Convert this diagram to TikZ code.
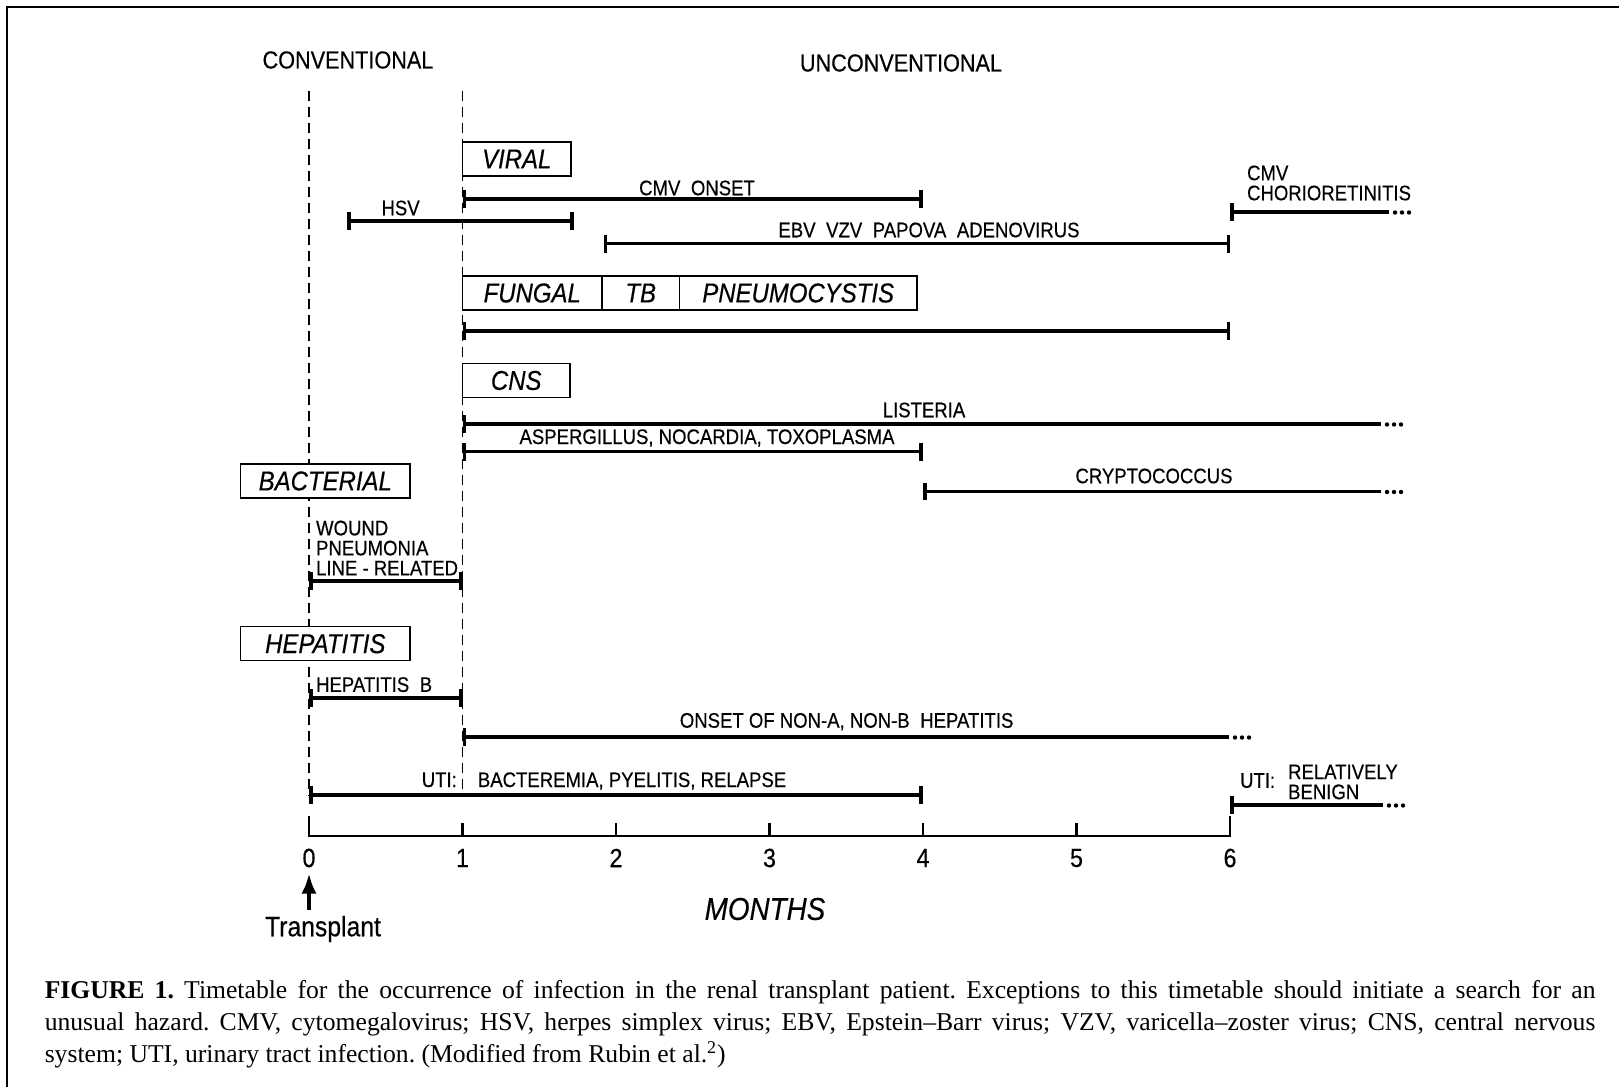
\documentclass[tikz,border=0pt]{standalone}
\usepackage{fontspec}
\setmainfont{Liberation Serif}
\newfontfamily\letfont[FakeStretch=0.88,FakeBold=0.4]{Liberation Sans}
\usetikzlibrary{arrows.meta,positioning}

\begin{document}
\begin{tikzpicture}[x=0.02cm, y=-0.02cm,
    span/.style={line width=2pt, {Bar[width=3.6mm]}-{Bar[width=3.6mm]}},
    onward/.style={line width=2pt, {Bar[width=3.6mm]}-},
    group/.style={draw, line width=0.9pt, fill=white, outer sep=0pt, inner sep=0pt, minimum height=6.8mm, font=\letfont\fontsize{15.5}{18}\selectfont\itshape},
    lbl/.style={inner sep=1pt, font=\letfont\fontsize{12}{11.4}\selectfont},
    head/.style={font=\letfont\fontsize{14}{16}\selectfont},
    num/.style={font=\letfont\fontsize{15}{17}\selectfont},
    more/.pic={\foreach \i in {0,1,2} \fill (6+7*\i,0.5) circle (2.2);},
    period/.style={line width=0.9pt, dash pattern=on 2mm off 1.2mm}
]
\useasboundingbox (0,0) rectangle (1619,1087);
\draw[line width=1.5pt] (7,1087) -- (7,7) -- (1619,7);

\node[head] (conv) at (348,60) {CONVENTIONAL};
\node[head] (unconv) at (901,63) {UNCONVENTIONAL};

% month 0 and month 1 limits
\coordinate (d0a) at (309,91);
\coordinate (d0b) at (309,795);
\coordinate (d1a) at (462.5,91);
\coordinate (d1b) at (462.5,792);
\draw[period] (d0a) -- (d0b);
\draw[period] (d1a) -- (d1b);

% viral
\node[group, minimum width=21.7mm, anchor=west] (viral) at (462.5,159) {VIRAL};
\coordinate (cmv1) at (462.5,199);
\coordinate (cmv4) at (923,199);
\draw[span] (cmv1) -- (cmv4);
\node[lbl] (cmvlbl) at (697,188) {CMV\enspace ONSET};
\coordinate (hsv1) at (347,221);
\coordinate (hsv2) at (574,221);
\draw[span] (hsv1) -- (hsv2);
\node[lbl] (hsvlbl) at (400.6,208) {HSV};
\coordinate (ebv1) at (603.5,243.7);
\coordinate (ebv6) at (1230,243.7);
\draw[span] (ebv1) -- (ebv6);
\node[lbl] (ebvlbl) at (929,230) {EBV\enspace VZV\enspace PAPOVA\enspace ADENOVIRUS};
\coordinate (cr6) at (1230,212);
\coordinate (cr7) at (1389,212);
\draw[onward] (cr6) -- (cr7);
\pic at (cr7) {more};
\node[lbl, anchor=west, align=left] (crlbl) at (1245,183) {CMV\\CHORIORETINITIS};

% fungal
\node[group, minimum width=27.9mm, anchor=west] (fungal) at (462.5,293) {FUNGAL};
\node[group, minimum width=15.5mm, right=0pt of fungal] (tb) {TB};
\node[group, minimum width=47.5mm, right=0pt of tb] (pcp) {PNEUMOCYSTIS};
\coordinate (fg1) at (462.5,331);
\coordinate (fg6) at (1230,331);
\draw[span] (fg1) -- (fg6);

% cns
\node[group, minimum width=21.5mm, anchor=west] (cns) at (462.5,380.5) {CNS};
\coordinate (ls1) at (462.5,424);
\coordinate (ls7) at (1381,424);
\draw[onward] (ls1) -- (ls7);
\pic at (ls7) {more};
\node[lbl] (lslbl) at (924,410) {LISTERIA};
\coordinate (as1) at (462.5,451.7);
\coordinate (as4) at (923,451.7);
\draw[span] (as1) -- (as4);
\node[lbl] (aslbl) at (707,438) {ASPERGILLUS, NOCARDIA, TOXOPLASMA};
\coordinate (cc4) at (923,491.5);
\coordinate (cc7) at (1381,491.5);
\draw[onward] (cc4) -- (cc7);
\pic at (cc7) {more};
\node[lbl] (cclbl) at (1154,476) {CRYPTOCOCCUS};

% bacterial
\node[group, minimum width=33.9mm] (bact) at (325.3,481) {BACTERIAL};
\node[lbl, anchor=west, align=left] (bactlbl) at (314,548) {WOUND\\PNEUMONIA\\LINE - RELATED};
\coordinate (bc0) at (309,581);
\coordinate (bc1) at (462.5,581);
\draw[span] (bc0) -- (bc1);

% hepatitis
\node[group, minimum width=33.9mm] (hep) at (325.3,643.7) {HEPATITIS};
\node[lbl, anchor=west] (hepblbl) at (314,684.6) {HEPATITIS\enspace B};
\coordinate (hb0) at (309,698);
\coordinate (hb1) at (462.5,698);
\draw[span] (hb0) -- (hb1);
\coordinate (nab1) at (462.5,737);
\coordinate (nab6) at (1229,737);
\draw[onward] (nab1) -- (nab6);
\pic at (nab6) {more};
\node[lbl] (nablbl) at (846.6,721.7) {ONSET OF NON-A, NON-B\enspace HEPATITIS};

% urinary tract
\coordinate (ut0) at (309,795);
\coordinate (ut4) at (923,795);
\draw[span] (ut0) -- (ut4);
\node[lbl] (utlbl) at (604,781) {UTI:\quad BACTEREMIA, PYELITIS, RELAPSE};
\coordinate (ub6) at (1230,805);
\coordinate (ub7) at (1383,805);
\draw[onward] (ub6) -- (ub7);
\pic at (ub7) {more};
\node[lbl] (ubuti) at (1257.6,780.6) {UTI:};
\node[lbl, anchor=west, align=left] (ublbl) at (1286,782) {RELATIVELY\\BENIGN};

% time axis
\draw[line width=1.4pt] (309,816) -- (309,836) -- (1230,836) -- (1230,816);
\foreach \m in {1,...,5}
    \draw[line width=1.2pt] ({309+153.5*\m},836) -- ++(0,-13);
\foreach \m in {0,...,6}
    \node[num] (n\m) at ({309+153.5*\m},858) {\m};
\node[font=\letfont\fontsize{18}{20}\selectfont\itshape] (months) at (765,909) {MONTHS};
\node[font=\letfont\fontsize{16}{18}\selectfont] (tx) at (323,929) {Transplant};
\draw[line width=2pt, -{Latex[length=4mm,width=3mm]}] (tx.north -| n0.south) -- (n0.south);

\node[anchor=north west, inner sep=0pt, text width=31.02cm, align=justify, font=\fontsize{14.6}{18.3}\selectfont\frenchspacing] (caption) at (44.4,980)
    {\textbf{FIGURE 1.} Timetable for the occurrence of infection in the renal transplant patient. Exceptions to this timetable should initiate a search for an\linebreak
    unusual hazard. CMV, cytomegalovirus; HSV, herpes simplex virus; EBV, Epstein--Barr virus; VZV, varicella--zoster virus; CNS, central nervous\linebreak
    system; UTI, urinary tract infection. (Modified from Rubin et al.\textsuperscript{2})};
\end{tikzpicture}
\end{document}
